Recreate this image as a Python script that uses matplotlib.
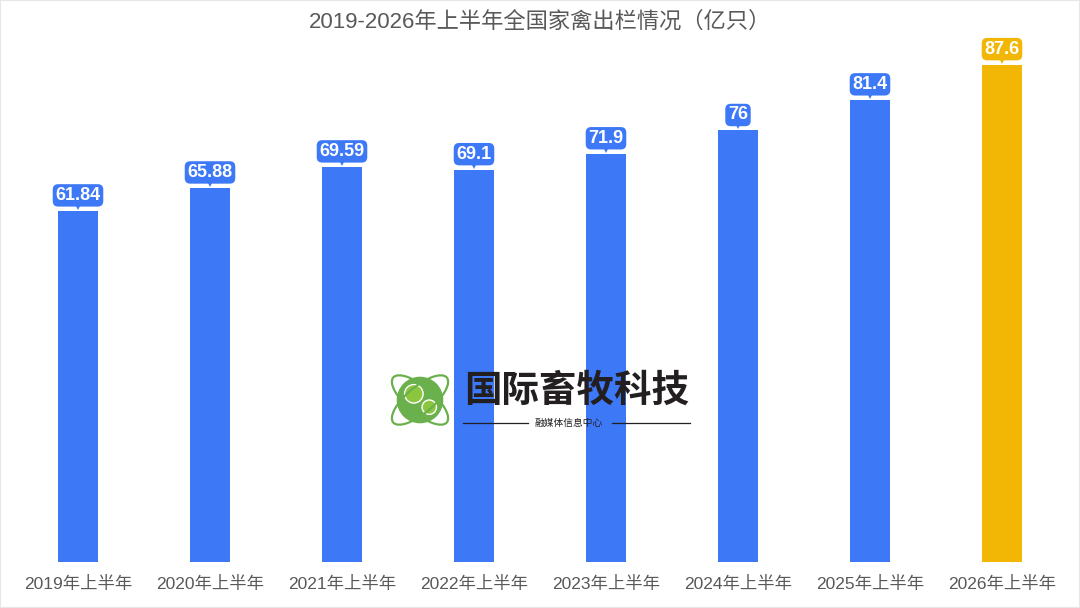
import matplotlib.pyplot as plt
import matplotlib.patches as mpatches
import matplotlib.transforms as mtransforms

plt.rcParams['font.family'] = ['Liberation Sans', 'Noto Sans CJK SC']

# 数据
categorias = ["2019年上半年", "2020年上半年", "2021年上半年", "2022年上半年",
              "2023年上半年", "2024年上半年", "2025年上半年", "2026年上半年"]
valores = [61.84, 65.88, 69.59, 69.1, 71.9, 76, 81.4, 87.6]
etiquetas = ["61.84", "65.88", "69.59", "69.1", "71.9", "76", "81.4", "87.6"]

azul = "#3d78f7"
oro = "#f2b705"
colores = [azul] * 7 + [oro]

fig = plt.figure(figsize=(10.8, 6.08), dpi=100)
ax = fig.add_axes([12 / 1080, 46 / 608, 1056 / 1080, 511 / 608])

x = list(range(len(categorias)))
ax.bar(x, valores, width=0.30, color=colores, zorder=2)
ax.set_xlim(-0.5, len(categorias) - 0.5)
ax.set_ylim(0, 90)

for s in ax.spines.values():
    s.set_visible(False)
ax.set_yticks([])
ax.set_xticks(x)
ax.set_xticklabels(categorias, fontsize=12.5, color="#595959")
ax.tick_params(axis='x', length=0, pad=10)

# etiquetas con caja y flecha
for i, v in enumerate(valores):
    ax.annotate(etiquetas[i], xy=(i, v), xytext=(0, 7), textcoords='offset pixels',
                ha='center', va='bottom', fontsize=13, fontweight='bold', color='white',
                bbox=dict(boxstyle='round,pad=0.15,rounding_size=0.3', fc=colores[i], ec='none'),
                zorder=4)
    tr = mtransforms.offset_copy(ax.transData, fig=fig, x=0, y=5, units='dots')
    ax.plot([i], [v], marker='v', markersize=6, color=colores[i], transform=tr,
            clip_on=False, zorder=4, markeredgewidth=0)

fig.text(0.5, 1 - 22 / 608, "2019-2026年上半年全国家禽出栏情况（亿只）", ha='center', va='center',
         fontsize=16, color="#595959")

# marca de agua: logo
verde = "#6ab04c"
lax = fig.add_axes([384 / 1080, 1 - 436 / 608, 72 / 1080, 72 / 608], zorder=5)
lax.set_xlim(-35, 35)
lax.set_ylim(-35, 35)
lax.set_aspect('equal')
lax.axis('off')
lax.add_patch(mpatches.Circle((0, 0), 24, fc=verde, ec='white', lw=2))
lax.add_patch(mpatches.Circle((-6, 6), 9, fc='#8cc63f', ec='white', lw=1))
lax.add_patch(mpatches.Circle((9, -7), 7, fc='#8cc63f', ec='white', lw=1))
lax.add_patch(mpatches.Ellipse((0, 0), 68, 26, angle=40, fc='none', ec=verde, lw=1.6))
lax.add_patch(mpatches.Ellipse((0, 0), 68, 26, angle=-40, fc='none', ec=verde, lw=1.6))

fig.text(577 / 1080, 1 - 390 / 608, "国际畜牧科技", ha='center', va='center', fontsize=27,
         fontweight='bold', color="#231f20", family=['Noto Sans CJK SC'], zorder=6)
fig.text(569 / 1080, 1 - 423 / 608, "融媒体信息中心", ha='center', va='center', fontsize=7,
         color="#231f20", family=['Noto Sans CJK SC'], zorder=6)
fig.lines.append(plt.Line2D([463 / 1080, 528 / 1080], [1 - 423 / 608] * 2, transform=fig.transFigure,
                            color="#231f20", lw=0.9, zorder=6))
fig.lines.append(plt.Line2D([612 / 1080, 690 / 1080], [1 - 423 / 608] * 2, transform=fig.transFigure,
                            color="#231f20", lw=0.9, zorder=6))

# borde
fig.patches.append(mpatches.Rectangle((0, 0), 1, 1, transform=fig.transFigure, fc='none',
                                      ec="#e6e6e6", lw=1.5, zorder=10))

plt.savefig("out.png", dpi=100)
